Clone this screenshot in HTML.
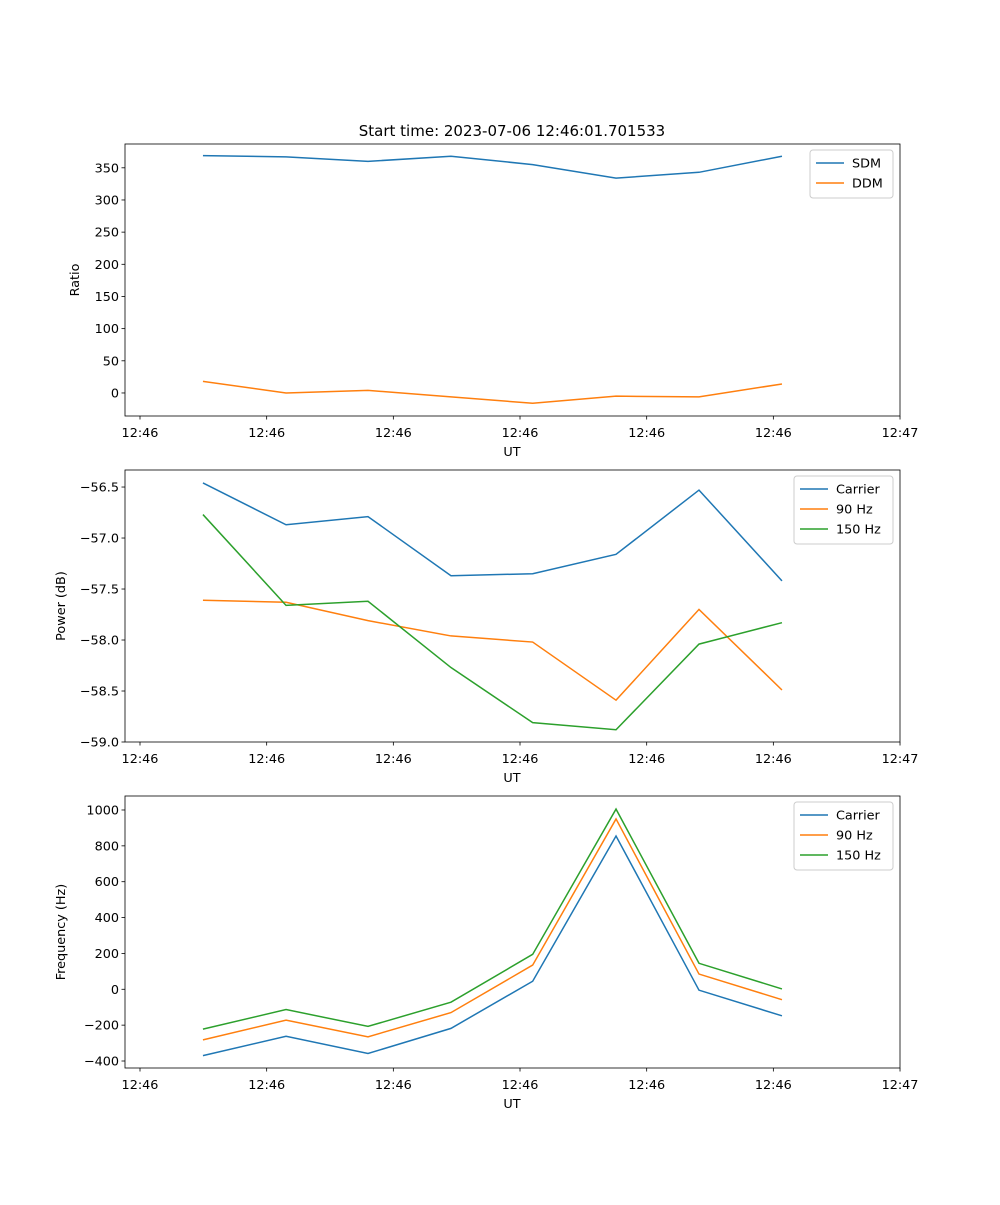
<!DOCTYPE html>
<html><head><meta charset="utf-8"><style>
body{margin:0;background:#fff;}
svg{font-family:"DejaVu Sans","Liberation Sans",sans-serif;}
</style></head><body>
<svg id="fig" width="1000" height="1200" xmlns="http://www.w3.org/2000/svg">
<rect width="1000" height="1200" fill="#fff"/>
<text x="512" y="136" font-size="15" text-anchor="middle">Start time: 2023-07-06 12:46:01.701533</text>
</svg>
<script>
const xTickVals=[0,1,2,3,4,5,6];
const xTickLabels=["12:46","12:46","12:46","12:46","12:46","12:46","12:47"];
const times=[0.497,1.153,1.80,2.455,3.10,3.758,4.413,5.068];
const sdm=[369,367,360,368,355,334,343,368];
const ddm=[18,0,4,-6,-16,-5,-6,14];
const powCarrier=[-56.46,-56.87,-56.79,-57.37,-57.35,-57.16,-56.53,-57.42];
const pow90=[-57.61,-57.63,-57.81,-57.96,-58.02,-58.59,-57.70,-58.49];
const pow150=[-56.77,-57.66,-57.62,-58.27,-58.81,-58.88,-58.04,-57.83];
const freqCarrier=[-370,-262,-358,-218,45,855,-5,-148];
const freq90=[-282,-172,-265,-130,135,950,85,-58];
const freq150=[-222,-113,-207,-72,195,1005,145,2];
const ticks1=[0,50,100,150,200,250,300,350];
const ticks2=[-59.0,-58.5,-58.0,-57.5,-57.0,-56.5];
const ticks3=[-400,-200,0,200,400,600,800,1000];
const C=['#1f77b4','#ff7f0e','#2ca02c'];
const NS='http://www.w3.org/2000/svg';
const svg=document.getElementById('fig');
function mk(tag,at,parent){const e=document.createElementNS(NS,tag);for(const k in at)e.setAttribute(k,at[k]);(parent||svg).appendChild(e);return e;}
const L=125,R=900;
const xs=t=>140+t*126.67;
function panel(id,top,bot,ymin,ymax,yt,fmt,ylabel,series,names,legW){
  const g=mk('g',{});
  
  
  const ys=v=>bot-(v-ymin)/(ymax-ymin)*(bot-top);
  series.forEach((s,i)=>{
    const p=mk('polyline',{points:s.map((v,j)=>xs(times[j])+','+ys(v)).join(' '),fill:'none',stroke:C[i],'stroke-width':1.5},g);
    
    
  });
  mk('rect',{x:L,y:top,width:R-L,height:bot-top,fill:'none',stroke:'#000','stroke-width':0.8},g);
  xTickVals.forEach((t,i)=>{
    const x=xs(t);
    mk('line',{x1:x,x2:x,y1:bot,y2:bot+3.5,stroke:'#000','stroke-width':0.8},g);
    const tx=mk('text',{x:x,y:bot+21,'font-size':12.8,'text-anchor':'middle'},g);
    tx.textContent=xTickLabels[i];
    
    
  });
  yt.forEach(v=>{
    const y=ys(v);
    mk('line',{x1:L-3.5,x2:L,y1:y,y2:y,stroke:'#000','stroke-width':0.8},g);
    const tx=mk('text',{x:L-6,y:y+4.5,'font-size':12.8,'text-anchor':'end'},g);
    tx.textContent=fmt(v);
    
    
  });
  const xl=mk('text',{x:512,y:bot+40,'font-size':12.8,'text-anchor':'middle'},g);
  xl.textContent='UT';
  
  
  const cy=(top+bot)/2;
  const yl=mk('text',{x:0,y:0,'font-size':12.8,'text-anchor':'middle',transform:`translate(${id==='ratio'?79:65},${cy}) rotate(-90)`},g);
  yl.textContent=ylabel;
  
  
  const lx=R-7-legW, ly=top+6;
  const lg=mk('g',{},g);
  
  
  mk('rect',{x:lx,y:ly,width:legW,height:8+names.length*20,rx:3,fill:'#fff','fill-opacity':0.8,stroke:'#ccc'},lg);
  names.forEach((n,i)=>{
    const yy=ly+13+i*20;
    mk('line',{x1:lx+6,x2:lx+34,y1:yy,y2:yy,stroke:C[i],'stroke-width':1.5},lg);
    const t=mk('text',{x:lx+42,y:yy+4.5,'font-size':12.8},lg);
    t.textContent=n;
    
    
  });
}
panel('ratio',144,416,-35.8,387,ticks1,v=>String(v),'Ratio',[sdm,ddm],['SDM','DDM'],83);
panel('power',470,742,-59.0,-56.333,ticks2,v=>(v<0?'\u2212':'')+Math.abs(v).toFixed(1),'Power (dB)',[powCarrier,pow90,pow150],['Carrier','90 Hz','150 Hz'],99);
panel('frequency',796,1068,-439,1078,ticks3,v=>(v<0?'\u2212':'')+Math.abs(v),'Frequency (Hz)',[freqCarrier,freq90,freq150],['Carrier','90 Hz','150 Hz'],99);
</script>
</body></html>
